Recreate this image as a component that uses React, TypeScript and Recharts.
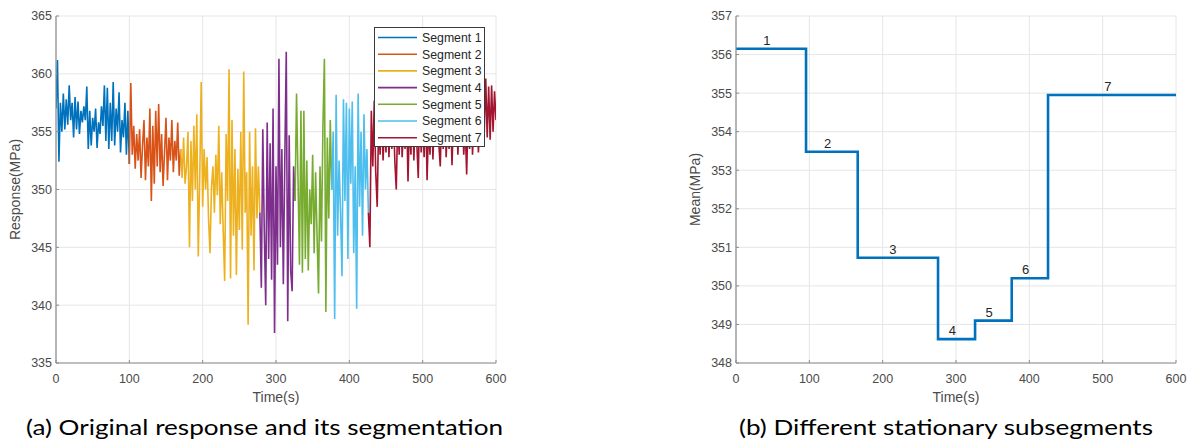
import React from "react";
import {
  LineChart,
  Line,
  XAxis,
  YAxis,
  CartesianGrid,
  Legend,
  Label,
  LabelList,
} from "recharts";

// ---------- Panel (a): original response, 7 segments (sampled every 2 s) ----------
const SAMPLE_STEP = 2;
const segmentNames = ["Segment 1", "Segment 2", "Segment 3", "Segment 4", "Segment 5", "Segment 6", "Segment 7"];
const segmentColors = ["#0072BD", "#D95319", "#EDB120", "#7E2F8E", "#77AC30", "#4DBEEE", "#A2142F"];
const segmentStarts = [0, 100, 170, 278, 326, 376, 426];

const seg1 = [
  357.0, 361.2, 352.4, 357.5, 355.0, 358.3, 355.2, 357.8, 355.6, 359.0,
  356.0, 357.5, 354.5, 358.0, 355.2, 357.6, 354.8, 356.8, 355.8, 357.2,
  356.0, 358.9, 353.5, 356.8, 353.8, 356.2, 355.0, 357.0, 353.6, 355.8,
  354.8, 357.2, 355.5, 359.0, 354.2, 358.8, 353.5, 357.5, 354.2, 359.3,
  353.8, 357.0, 355.0, 358.4, 353.2, 356.0, 354.5, 357.5, 353.0, 356.8,
  352.2,
];
const seg2 = [
  352.2, 359.2, 353.0, 355.5, 351.8, 354.8, 352.5, 355.2, 351.0, 353.8,
  356.0, 350.8, 354.5, 352.0, 357.0, 349.0, 355.5, 350.5, 356.8, 352.0,
  357.4, 351.5, 354.8, 350.3, 353.2, 356.2, 350.8, 354.5, 352.5, 356.0,
  351.5, 354.2, 352.5, 355.8, 351.2, 353.5,
];
const seg3 = [
  353.5, 351.0, 354.5, 350.5, 352.0, 355.0, 345.0, 354.2, 349.0, 355.5,
  350.0, 356.5, 344.2, 351.0, 359.3, 348.5, 353.5, 350.0, 352.8, 347.5,
  344.5, 350.2, 352.0, 348.0, 353.0, 349.5, 355.5, 347.0, 351.5, 346.5,
  342.1, 354.8, 349.0, 360.4, 342.3, 356.0, 346.0, 353.5, 342.6, 351.8,
  346.5, 355.0, 344.8, 360.2, 348.0, 351.5, 338.3, 355.0, 346.0, 352.0,
  343.0, 355.3, 347.5, 352.0, 348.0,
];
const seg4 = [
  348.0, 341.5, 355.2, 346.5, 340.0, 355.8, 344.0, 354.0, 342.2, 357.0,
  337.6, 352.0, 343.5, 361.3, 345.0, 353.5, 341.8, 352.6, 361.9, 338.6,
  354.7, 343.0, 341.2, 352.0, 349.0,
];
const seg5 = [
  349.0, 358.3, 351.0, 343.5, 356.8, 342.8, 356.8, 344.0, 352.5, 343.0,
  350.0, 347.0, 353.0, 344.5, 351.5, 346.0, 341.0, 352.0, 345.5, 355.5,
  361.3, 339.4, 354.5, 347.5, 356.0, 350.0,
];
const seg6 = [
  350.0, 355.0, 338.8, 358.2, 346.0, 352.5, 348.0, 342.5, 357.8, 349.0,
  357.5, 344.0, 357.0, 350.5, 357.6, 344.5, 352.0, 339.7, 358.3, 348.5,
  355.0, 346.0, 356.5, 350.0, 353.5, 348.0,
];
const seg7 = [
  348.0, 345.0, 356.8, 352.0, 357.7, 351.5, 348.5, 356.0, 353.0, 357.5,
  352.5, 355.8, 353.2, 358.0, 352.8, 356.5, 353.5, 357.0, 352.5, 350.0,
  356.2, 353.0, 358.5, 352.8, 355.5, 353.5, 357.2, 350.7, 356.0, 353.0,
  358.2, 352.5, 356.8, 354.0, 351.0, 357.5, 353.2, 356.0, 352.8, 357.8,
  350.8, 355.5, 353.0, 358.0, 352.6, 356.5, 353.8, 357.2, 354.0, 352.0,
  356.8, 353.5, 358.5, 352.8, 355.8, 353.5, 357.0, 352.1, 356.2, 353.8,
  358.0, 353.0, 356.0, 354.2, 357.5, 353.0, 355.5, 351.3, 356.8, 353.5,
  358.2, 353.0, 356.5, 354.0, 357.8, 353.2, 356.0, 354.0, 358.0, 355.0,
  359.6, 354.5, 358.9, 354.3, 359.0, 355.0, 358.5, 356.0,
];
const segments = [seg1, seg2, seg3, seg4, seg5, seg6, seg7];

const timeTicks = [0, 100, 200, 300, 400, 500, 600];
const responseTicks = [335, 340, 345, 350, 355, 360, 365];

// ---------- Panel (b): stationary subsegment means ----------
const stepTimes = [0, 95.5, 166, 275.5, 326, 376, 425.5, 600];
const stepMeans = [356.15, 353.48, 350.73, 348.62, 349.1, 350.2, 354.95, 354.95];
const stepLabels = ["1", "2", "3", "4", "5", "6", "7"];
const stepLabelTimes = [42, 125, 214, 295, 345, 395, 507];
const meanTicks = [348, 349, 350, 351, 352, 353, 354, 355, 356, 357];

// ---------- build tables ----------
const rowMap = new Map<number, Record<string, number>>();
segments.forEach((vals, i) => {
  vals.forEach((v, j) => {
    const t = segmentStarts[i] + j * SAMPLE_STEP;
    const row = rowMap.get(t) ?? { t };
    row["s" + (i + 1)] = v;
    rowMap.set(t, row);
  });
});
const responseRows = Array.from(rowMap.values()).sort((a, b) => a.t - b.t);

const stepRows = stepTimes.map((t, i) => ({ t, mean: stepMeans[i] }));
const labelRows = stepLabels.map((name, i) => ({ t: stepLabelTimes[i], mean: stepMeans[i], name }));

// ---------- styles ----------
const AXIS_FONT = "'Liberation Sans', Arial, sans-serif";
const tickStyle = { fontFamily: AXIS_FONT, fontSize: 12.5, fill: "#4a4a4a" };
const axisTitleStyle = { fontFamily: AXIS_FONT, fontSize: 14, fill: "#4a4a4a" };
const axisLine = { stroke: "#8c8c8c", strokeWidth: 1.2 };
const tickLine = { stroke: "#8c8c8c" };
const GRID = "#e6e6e6";

const SegmentLegend = () => (
  <div
    style={{
      width: 111,
      height: 120,
      background: "#fff",
      border: "1px solid #3a3a3a",
      boxSizing: "border-box",
    }}
  >
    <svg width={109} height={118}>
      {segmentNames.map((name, i) => {
        const y = 9.5 + i * 16.7;
        return (
          <g key={name}>
            <line x1={3} x2={42} y1={y} y2={y} stroke={segmentColors[i]} strokeWidth={1.6} />
            <text x={47} y={y + 4.3} fontFamily={AXIS_FONT} fontSize={12.3} fill="#262626">
              {name}
            </text>
          </g>
        );
      })}
    </svg>
  </div>
);

export default function App() {
  return (
    <div
      style={{
        position: "absolute",
        left: 0,
        top: 0,
        width: 1193,
        height: 443,
        background: "#fff",
        overflow: "hidden",
      }}
    >
      {/* Panel (a) */}
      <div style={{ position: "absolute", left: 0, top: 0 }}>
        <LineChart
          width={600}
          height={443}
          data={responseRows}
          margin={{ top: 16, right: 104, bottom: 30, left: 0 }}
        >
          <CartesianGrid stroke={GRID} strokeWidth={1} />
          <XAxis
            dataKey="t"
            type="number"
            domain={[0, 600]}
            ticks={timeTicks}
            height={50}
            tick={tickStyle}
            axisLine={axisLine}
            tickLine={tickLine}
            tickSize={-3}
            tickMargin={14}
            allowDataOverflow
          >
            <Label value="Time(s)" position="insideBottom" offset={11} style={axisTitleStyle} />
          </XAxis>
          <YAxis
            type="number"
            domain={[335, 365]}
            ticks={responseTicks}
            width={56}
            tick={tickStyle}
            axisLine={axisLine}
            tickLine={tickLine}
            tickSize={-3}
            tickMargin={7}
            allowDataOverflow
          >
            <Label
              value="Response(MPa)"
              angle={-90}
              position="insideLeft"
              offset={15}
              style={{ ...axisTitleStyle, textAnchor: "middle" }}
            />
          </YAxis>
          {segmentNames.map((name, i) => (
            <Line
              key={name}
              name={name}
              dataKey={"s" + (i + 1)}
              stroke={segmentColors[i]}
              strokeWidth={1.6}
              dot={false}
              activeDot={false}
              isAnimationActive={false}
              type="linear"
            />
          ))}
          <Legend
            layout="vertical"
            align="center"
            verticalAlign="middle"
            wrapperStyle={{ left: 374, top: 27, width: 111, height: 120 }}
            content={() => <SegmentLegend />}
          />
        </LineChart>
      </div>

      {/* Panel (b) */}
      <div style={{ position: "absolute", left: 680, top: 0 }}>
        <LineChart width={513} height={443} margin={{ top: 16, right: 17, bottom: 30, left: 0 }}>
          <CartesianGrid stroke={GRID} strokeWidth={1} />
          <XAxis
            dataKey="t"
            type="number"
            domain={[0, 600]}
            ticks={timeTicks}
            height={50}
            tick={tickStyle}
            axisLine={axisLine}
            tickLine={tickLine}
            tickSize={-3}
            tickMargin={14}
            allowDataOverflow
          >
            <Label value="Time(s)" position="insideBottom" offset={11} style={axisTitleStyle} />
          </XAxis>
          <YAxis
            type="number"
            domain={[348, 357]}
            ticks={meanTicks}
            width={56}
            tick={tickStyle}
            axisLine={axisLine}
            tickLine={tickLine}
            tickSize={-3}
            tickMargin={7}
            allowDataOverflow
          >
            <Label
              value="Mean(MPa)"
              angle={-90}
              position="insideLeft"
              offset={15}
              style={{ ...axisTitleStyle, textAnchor: "middle" }}
            />
          </YAxis>
          <Line
            data={stepRows}
            dataKey="mean"
            type="stepAfter"
            stroke="#0072BD"
            strokeWidth={2.6}
            dot={false}
            activeDot={false}
            isAnimationActive={false}
          />
          <Line
            data={labelRows}
            dataKey="mean"
            stroke="none"
            dot={false}
            activeDot={false}
            isAnimationActive={false}
          >
            <LabelList
              dataKey="name"
              position="top"
              offset={4}
              style={{ fontFamily: AXIS_FONT, fontSize: 13, fill: "#262626" }}
            />
          </Line>
        </LineChart>
      </div>

      {/* Captions */}
      <svg style={{ position: "absolute", left: 0, top: 0 }} width={1193} height={443}>
        <text
          x={264.5}
          y={435}
          textAnchor="middle"
          fontFamily="Lato, 'Open Sans', sans-serif"
          fontSize={21}
          fill="#000"
          textLength={477}
          lengthAdjust="spacingAndGlyphs"
        >
          (a) Original response and its segmentation
        </text>
        <text
          x={946}
          y={435}
          textAnchor="middle"
          fontFamily="Lato, 'Open Sans', sans-serif"
          fontSize={21}
          fill="#000"
          textLength={414}
          lengthAdjust="spacingAndGlyphs"
        >
          (b) Different stationary subsegments
        </text>
      </svg>
    </div>
  );
}
